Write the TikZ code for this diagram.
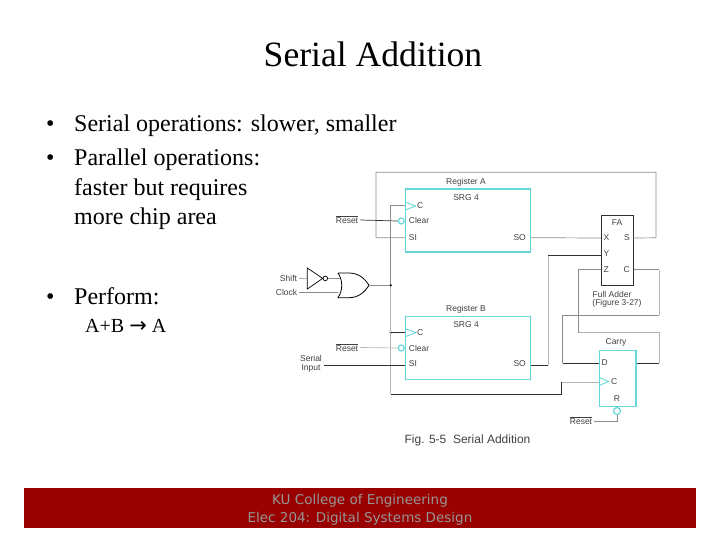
\documentclass[tikz,border=0pt]{standalone}
\usepackage{fontspec}
\usepackage{xcolor}
\setmainfont{Liberation Serif}
\setsansfont{Liberation Sans}
\newfontfamily\footfont{DejaVu Sans}
\usetikzlibrary{positioning, arrows.meta}
\definecolor{srgCyan}{HTML}{66D8DC}
\definecolor{footRed}{HTML}{990000}
\definecolor{footGray}{HTML}{969696}
\definecolor{wireMid}{HTML}{8C8C8C}
\definecolor{wireLight}{HTML}{B4B4B4}
\definecolor{wireDark}{HTML}{303030}
\tikzset{
  srgbox/.style={draw=srgCyan, line width=1.1pt, minimum width=124.5pt, inner sep=0pt},
  blackbox/.style={draw=wireDark, line width=0.9pt, inner sep=0pt},
  bubble/.style={circle, draw=srgCyan, line width=1.2pt, minimum size=6pt, inner sep=0pt},
  wiredot/.style={circle, fill=black, minimum size=2.6pt, inner sep=0pt},
  lab/.style={font=\sffamily\fontsize{8.5}{9}\selectfont, text=black!75, inner sep=0pt},
  wiremid/.style={draw=wireMid, line width=0.7pt},
  wirelight/.style={draw=wireLight, line width=0.7pt},
  wiredark/.style={draw=wireDark, line width=0.7pt},
  bullet/.style={font=\fontsize{24}{26}\selectfont, anchor=base west, inner sep=0pt}
}
\begin{document}
\begin{tikzpicture}[x=1pt, y=-1pt]
    \useasboundingbox (0,0) rectangle (720,540);
    % title and text
    \node[font=\fontsize{35.6}{38}\selectfont] (title) at (373,54) {Serial Addition};
    \node[bullet] (dotone) at (46,132) {•};
    \node[bullet] (dottwo) at (46,166) {•};
    \node[bullet] (dotthree) at (46,304) {•};
    \node[bullet] (lineone) at (74,132) {Serial operations: slower, smaller};
    \node[bullet] (linetwo) at (74,166) {Parallel operations:};
    \node[bullet] (linethree) at (74,196) {faster but requires};
    \node[bullet] (linefour) at (74,225) {more chip area};
    \node[bullet] (linefive) at (74,304) {Perform:};
    \node[bullet, font=\fontsize{20}{22}\selectfont] (linesix) at (85,332) {A+B {\footfont\fontsize{21}{22}\selectfont →} A};
    % registers
    \node[srgbox, minimum height=63pt] (regA) at (468,220.5) {};
    \node[srgbox, minimum height=62.5pt] (regB) at (468,348) {};
    \node[lab] (nameA) at (466,182.5) {Register A};
    \node[lab] (nameB) at (466,309.5) {Register B};
    \node[lab] (srgA) at (466,198) {SRG 4};
    \node[lab] (srgB) at (466,325) {SRG 4};
    \node[lab, anchor=west] (cA) at (417,206) {C};
    \node[lab, anchor=west] (clearA) at (408.7,220) {Clear};
    \node[lab, anchor=west] (siA) at (408.7,237.7) {SI};
    \node[lab, anchor=east] (soA) at (526,237.7) {SO};
    \node[lab, anchor=west] (cB) at (417,332.7) {C};
    \node[lab, anchor=west] (clearB) at (408.7,348) {Clear};
    \node[lab, anchor=west] (siB) at (408.7,363.5) {SI};
    \node[lab, anchor=east] (soB) at (526,363.5) {SO};
    \node[bubble] (bubA) at (401.3,221) {};
    \node[bubble] (bubB) at (401.3,348) {};
    % clock triangles
    \draw[draw=srgCyan, line width=0.9pt] (regA.west |- cA) ++(0,-4) -- ++(10.5,4) -- ++(-10.5,4);
    \draw[draw=srgCyan, line width=0.9pt] (regB.west |- cB) ++(0,-4) -- ++(10.5,4) -- ++(-10.5,4);
    % full adder
    \node[blackbox, minimum width=31.7pt, minimum height=70pt] (fa) at (617.2,250) {};
    \node[lab] (faname) at (617,222.7) {FA};
    \node[lab, anchor=west] (faX) at (603.5,238) {X};
    \node[lab, anchor=west] (faY) at (603.5,253.5) {Y};
    \node[lab, anchor=west] (faZ) at (603.5,269.5) {Z};
    \node[lab, anchor=east] (faS) at (630,238) {S};
    \node[lab, anchor=east] (faC) at (630,269.5) {C};
    \node[lab] (fanote) at (612,294) {Full Adder};
    \node[lab] (fafig) at (617,303) {(Figure 3-27)};
    % carry flip-flop
    \node[srgbox, minimum width=36.3pt, minimum height=56pt] (carry) at (617.8,378.7) {};
    \node[lab] (carryname) at (616,342) {Carry};
    \node[lab, anchor=west] (ffD) at (601.5,362.7) {D};
    \node[lab, anchor=west] (ffC) at (611,381.5) {C};
    \node[lab] (ffR) at (617,399) {R};
    \node[bubble, minimum size=7pt] (bubC) at (617,411) {};
    \draw[draw=srgCyan, line width=0.9pt] (carry.west |- ffC) ++(0,-4) -- ++(9.5,4) -- ++(-9.5,4);
    % left labels
    \node[lab] (resetA) at (347,220) {$\overline{\mbox{Reset}}$};
    \node[lab] (resetB) at (347,347.5) {$\overline{\mbox{Reset}}$};
    \node[lab] (resetC) at (581,421) {$\overline{\mbox{Reset}}$};
    \node[lab] (shift) at (288.5,278.3) {Shift};
    \node[lab] (clock) at (286.5,292.3) {Clock};
    \node[lab, align=center] (serial) at (311,364) {Serial\\Input};
    \node[lab, font=\sffamily\fontsize{12}{14}\selectfont] (figcap) at (467.5,440.5) {Fig. 5-5\ \ Serial Addition};
    % gates
    \coordinate (nota) at (307.3,268);
    \coordinate (notb) at (307.3,289);
    \coordinate (notc) at (322.7,278.4);
    \draw[draw=black, line width=0.7pt] (nota) -- (notc) -- (notb) -- cycle;
    \node[circle, draw=black, line width=0.7pt, minimum size=4.6pt, inner sep=0pt] (notbub) at (325.3,278.4) {};
    \coordinate (ortop) at (338,273);
    \coordinate (orbot) at (338,297.7);
    \coordinate (orout) at (369,285.3);
    \draw[draw=black, line width=0.8pt] (ortop) -- ++(11,0) .. controls (359,273) and (365,279) .. (orout)
      .. controls (365,291.5) and (359,297.7) .. (349,297.7) -- (orbot)
      .. controls (343,290) and (343,280.5) .. (ortop);
    % bends
    \node[wiredot] (clkjoin) at (390.7,285.3) {};
    \node[wiredot] (clkB) at (390.7,332.7) {};
    \coordinate (clkA) at (390.7,205.7);
    \coordinate (clkbot) at (390.7,394);
    \coordinate (clkright) at (561.7,394);
    \coordinate (clkup) at (561.7,382);
    \coordinate (topleft) at (376,172.3);
    \coordinate (topright) at (656,172.3);
    \coordinate (sumdown) at (656,237.8);
    \coordinate (siAleft) at (376,237.8);
    \coordinate (ybend) at (548.3,255);
    \coordinate (ydown) at (548.3,365);
    \coordinate (zbend) at (578.7,269.7);
    \coordinate (zdown) at (578.7,332.7);
    \coordinate (qtop) at (659,332.7);
    \coordinate (qdown) at (659,363.3);
    \coordinate (ctop) at (659.3,269.5);
    \coordinate (cdown) at (659.3,315.3);
    \coordinate (dtop) at (562.7,315.3);
    \coordinate (dbot) at (562.7,363.3);
    \coordinate (rbend) at (617,421);
    \coordinate (serialend) at (324.3,365.3);
    % wires
    \draw[wiremid] (fa.east |- faS) -- (sumdown) -- (topright) -- (topleft) -- (siAleft) -- (regA.west |- siAleft);
    \draw[wiremid] (regA.east |- soA) -- (fa.west |- faX);
    \draw[wiredark] (resetA.east) ++(2,0) -- (bubA.west);
    \draw[wirelight] (resetB.east) ++(2,0) -- (bubB.west);
    \draw[wiremid] (clkjoin) -- (clkA) -- (regA.west |- clkA);
    \draw[wirelight] (clkjoin) -- (clkbot);
    \draw[wiredark] (clkB) -- (regB.west |- clkB);
    \draw[wiremid] (orout) -- (clkjoin);
    \draw[wiredark] (serialend) -- (regB.west |- serialend);
    \draw[wiredark] (clkbot) -- (clkright) -- (clkup);
    \draw[wirelight] (clkup) -- (carry.west |- clkup);
    \draw[wiredark] (regB.east |- ydown) -- (ydown);
    \draw[wirelight] (ydown) -- (ybend);
    \draw[wiredark] (ybend) -- (fa.west |- ybend);
    \draw[wiremid] (fa.west |- zbend) -- (zbend) -- (zdown);
    \draw[wirelight] (zdown) -- (qtop) -- (qdown);
    \draw[wiredark] (qdown) -- (carry.east |- qdown);
    \draw[wiremid] (fa.east |- ctop) -- (ctop);
    \draw[wirelight] (ctop) -- (cdown);
    \draw[wiremid] (cdown) -- (dtop) -- (dbot);
    \draw[wiredark] (dbot) -- (carry.west |- dbot);
    \draw[wiremid] (resetC.east) ++(2,0) -- (rbend) -- (bubC.south);
    \draw[wiremid] (shift.east) ++(2,0) -- (notb |- notc);
    \draw[wiremid] (clock.east) ++(2,0) -- (orbot |- clock);
    \draw[wiremid] (notbub.east) -- (340,278.4);
    % footer
    \fill[footRed] (24,488) rectangle (696,528);
    \node[font=\footfont\fontsize{13.5}{18}\selectfont, text=footGray, align=center, inner sep=0pt] (footer) at (360,509.5)
      {KU College of Engineering\\Elec 204: Digital Systems Design};
  \end{tikzpicture}
\end{document}
